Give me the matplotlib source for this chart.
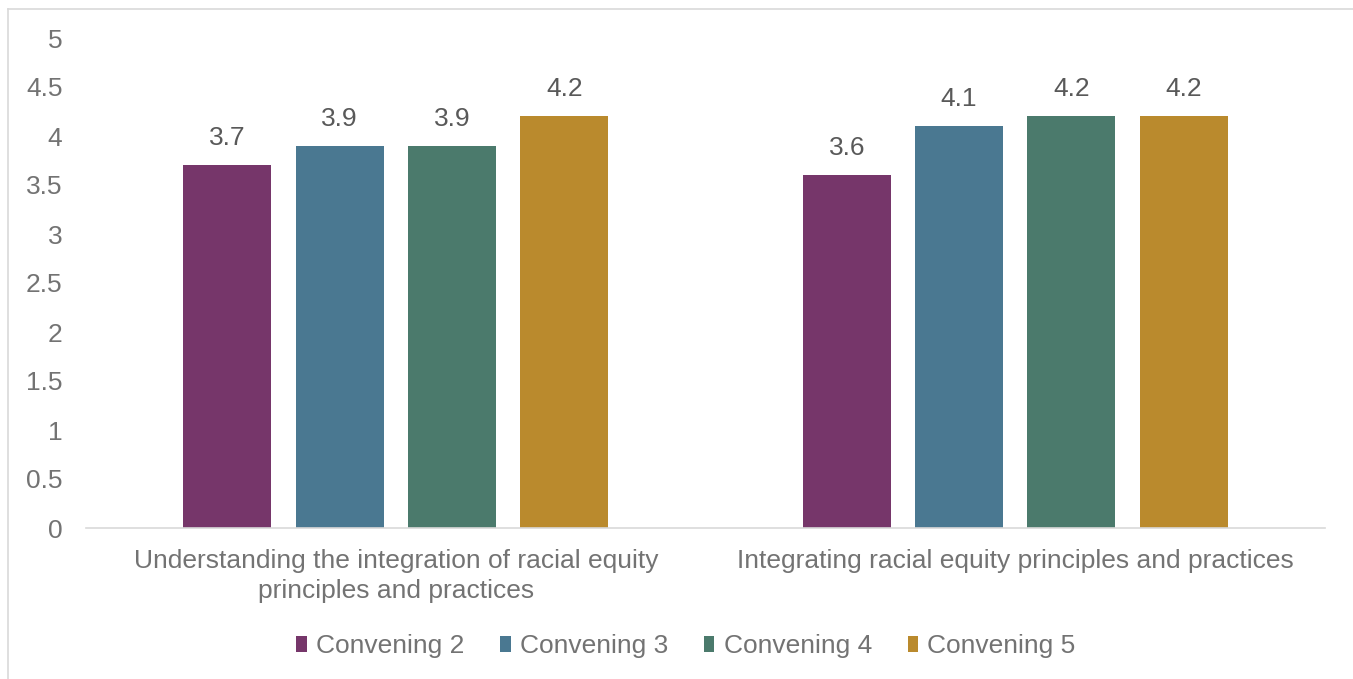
import numpy as np
import matplotlib
matplotlib.use("Agg")
import matplotlib.pyplot as plt
from matplotlib.lines import Line2D
from matplotlib.patches import Patch

plt.rcParams['font.family'] = ['Liberation Sans', 'DejaVu Sans']

categories = ["Understanding the integration of racial equity\nprinciples and practices",
              "Integrating racial equity principles and practices"]
series = ["Convening 2", "Convening 3", "Convening 4", "Convening 5"]
values = [
    [3.7, 3.6],
    [3.9, 4.1],
    [3.9, 4.2],
    [4.2, 4.2],
]
colors = ["#76366A", "#4A7891", "#4B7A6C", "#BA8A2D"]
yticks = [0, 0.5, 1, 1.5, 2, 2.5, 3, 3.5, 4, 4.5, 5]

fig = plt.figure(figsize=(13.53, 6.79), dpi=100)
ax = fig.add_axes([86/1353, 151/679, (1325-86)/1353, 490/679])

x = np.arange(len(categories))
width = 0.142
step = 0.1813
for i, (name, vals, c) in enumerate(zip(series, values, colors)):
    pos = x + (i - 1.5) * step
    bars = ax.bar(pos, vals, width, color=c, label=name)
    for b, v in zip(bars, vals):
        ax.annotate(f"{v:g}", (b.get_x() + b.get_width()/2, v),
                    xytext=(0, 11), textcoords="offset points",
                    ha="center", va="bottom", fontsize=19, color="#595959")

ax.set_xlim(-0.5, 1.5)
ax.set_ylim(0, 5)
ax.set_yticks(yticks)
ax.set_yticklabels([f"{t:g}" for t in yticks])
ax.set_xticks(x)
ax.set_xticklabels(categories, linespacing=1.3)
ax.tick_params(axis="y", length=0, pad=17, labelsize=19, labelcolor="#737373")
ax.tick_params(axis="x", length=0, pad=15, labelsize=19, labelcolor="#737373")
for s in ["top", "right", "left"]:
    ax.spines[s].set_visible(False)
ax.spines["bottom"].set_color("#D9D9D9")
ax.spines["bottom"].set_linewidth(1.2)

handles = [Patch(facecolor=c, label=n) for n, c in zip(series, colors)]
fig.legend(handles=handles, loc="center", bbox_to_anchor=(0.507, 0.048), ncol=4,
           frameon=False, fontsize=19, handlelength=0.4, handleheight=0.6,
           handletextpad=0.35, columnspacing=1.35, labelcolor="#737373")

# chart frame (left and top edges visible)
fig.add_artist(Line2D([8/1353, 8/1353], [0, 1 - 9/679], color="#D9D9D9", lw=1.2,
                      transform=fig.transFigure))
fig.add_artist(Line2D([8/1353, 1], [1 - 9/679, 1 - 9/679], color="#D9D9D9", lw=1.2,
                      transform=fig.transFigure))

fig.savefig("out.png", dpi=100)
